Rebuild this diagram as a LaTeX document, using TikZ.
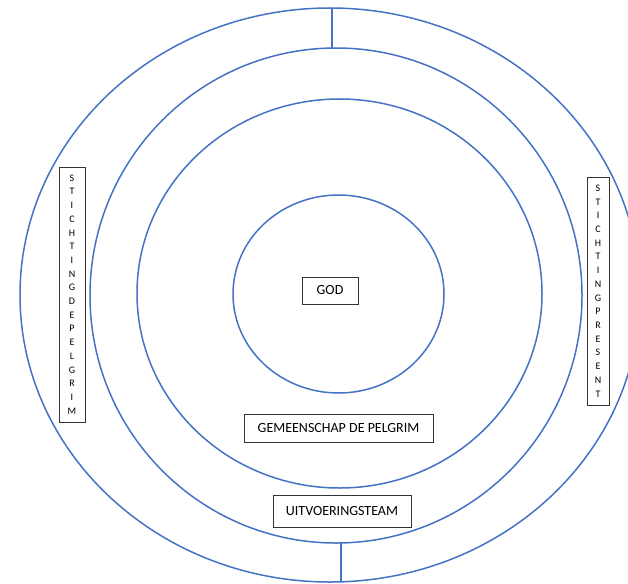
\documentclass[tikz,border=0pt]{standalone}
\usepackage{fontspec}
\setmainfont{Carlito}
\usetikzlibrary{shapes.geometric}
\definecolor{ringblue}{HTML}{4472C4}
\begin{document}
\begin{tikzpicture}[x=1pt,y=-1pt]
    \tikzstyle{ring}=[draw=ringblue,line width=1.5pt,ellipse,inner sep=0pt,outer sep=0pt]
    \tikzstyle{namebox}=[draw=black!80,line width=0.7pt,fill=white,inner sep=0pt,font=\fontsize{14}{16}\selectfont]
    \tikzstyle{sidebox}=[namebox,align=center,font=\fontsize{10}{13.7}\selectfont]
    \useasboundingbox (0,0) rectangle (628,583);
    \clip (0,0) rectangle (628,583);
    % rings
    \node[ring,minimum width=620pt,minimum height=574pt] (outer) at (330,295) {};
    \node[ring,minimum width=492pt,minimum height=495pt] (team) at (336,295.5) {};
    \node[ring,minimum width=405pt,minimum height=389pt] (community) at (339.5,293.5) {};
    \node[ring,minimum width=211pt,minimum height=198pt] (core) at (338.5,294) {};
    \draw[ringblue,line width=1.3pt] ([xshift=-4pt]team.north) -- ([xshift=-4pt]team.north |- outer.north);
    \draw[ringblue,line width=1.3pt] ([xshift=5pt]team.south) -- ([xshift=5pt]team.south |- outer.south);
    % names
    \node[namebox,minimum width=56pt,minimum height=27pt] (god) at (330,290.5) {GOD};
    \node[namebox,minimum width=189pt,minimum height=28pt] (gemeenschap) at (338.5,428) {GEMEENSCHAP DE PELGRIM};
    \node[namebox,minimum width=138pt,minimum height=32pt] (uitvoering) at (342,511) {UITVOERINGSTEAM};
    \node[sidebox,minimum width=26pt,minimum height=255pt] (pelgrim) at (72,294.5)
      {S\\T\\I\\C\\H\\T\\I\\N\\G\\D\\E\\P\\E\\L\\G\\R\\I\\M};
    \node[sidebox,minimum width=22pt,minimum height=228pt] (present) at (598,291)
      {S\\T\\I\\C\\H\\T\\I\\N\\G\\P\\R\\E\\S\\E\\N\\T};
\end{tikzpicture}
\end{document}
